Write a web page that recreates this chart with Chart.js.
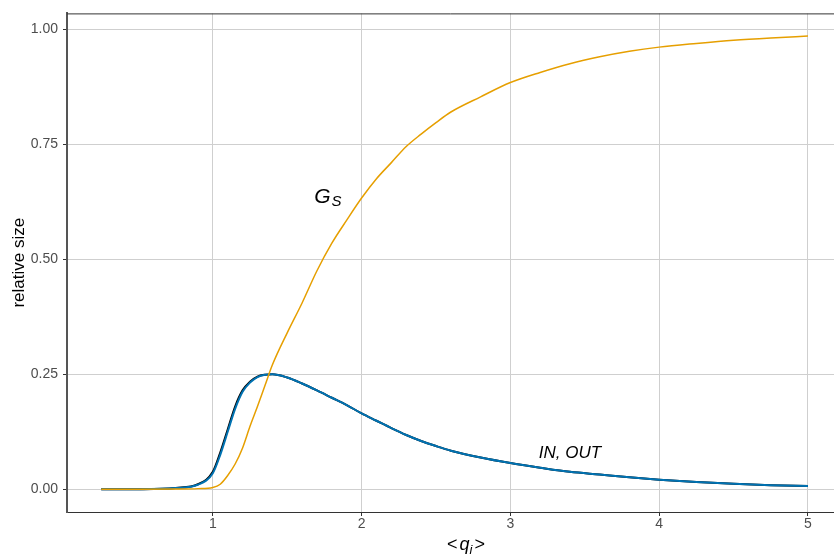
<!DOCTYPE html>
<html>
<head>
<meta charset="utf-8">
<script src="https://cdn.jsdelivr.net/npm/chart.js@4/dist/chart.umd.min.js"></script>
<style>
  html, body { margin: 0; padding: 0; background: #fff; }
  #wrap { width: 834px; height: 554px; }
</style>
</head>
<body>
<div id="wrap"><canvas id="chart" width="834" height="554"></canvas></div>
<script>
// mean degree <q_i>
const qValues = [0.25, 0.5, 0.75, 0.9, 1.0, 1.05, 1.1, 1.15, 1.2, 1.25, 1.3, 1.35, 1.4, 1.5, 1.6, 1.7, 1.8, 1.9, 2.0,
  2.1, 2.2, 2.3, 2.4, 2.5, 2.6, 2.8, 3.0, 3.2, 3.4, 3.6, 3.8, 4.0, 4.25, 4.5, 4.75, 5.0];
const gsSize = [0, 0, 0.0005, 0.0015, 0.004, 0.011, 0.03, 0.055, 0.09, 0.137, 0.18, 0.225, 0.27, 0.34, 0.405, 0.475, 0.535, 0.585, 0.633,
  0.675, 0.71, 0.745, 0.772, 0.797, 0.82, 0.853, 0.884, 0.906, 0.925, 0.94, 0.952, 0.961, 0.969, 0.976, 0.981, 0.985];
const inSize = [0, 0.0003, 0.003, 0.01, 0.035, 0.075, 0.125, 0.175, 0.212, 0.232, 0.244, 0.249, 0.25, 0.243, 0.23, 0.215, 0.199, 0.183, 0.165,
  0.149, 0.133, 0.118, 0.105, 0.094, 0.084, 0.069, 0.057, 0.047, 0.038, 0.032, 0.026, 0.021, 0.016, 0.012, 0.009, 0.007];
const outSize = [0, 0.0003, 0.003, 0.011, 0.038, 0.08, 0.13, 0.18, 0.215, 0.234, 0.245, 0.249, 0.25, 0.243, 0.23, 0.215, 0.199, 0.183, 0.165,
  0.149, 0.133, 0.118, 0.105, 0.094, 0.084, 0.069, 0.057, 0.047, 0.038, 0.032, 0.026, 0.021, 0.016, 0.012, 0.009, 0.007];
const xTicks = [1, 2, 3, 4, 5];
const yTicks = [0, 0.25, 0.5, 0.75, 1];
const labelGs = { x: 1.77, y: 0.637 };
const labelInOut = { x: 3.4, y: 0.082, text: "IN, OUT" };

const FONT = "'Liberation Sans', Arial, sans-serif";

function toPoints(ys) {
  return qValues.map((x, i) => ({ x, y: ys[i] }));
}

function buildDataset(label, ys, color, width, order) {
  return {
    label,
    data: toPoints(ys),
    borderColor: color,
    backgroundColor: color,
    borderWidth: width,
    pointRadius: 0,
    cubicInterpolationMode: "monotone",
    fill: false,
    order,
  };
}

const decorations = {
  id: "decorations",
  afterDatasetsDraw(chart) {
    const { ctx, chartArea, scales } = chart;
    ctx.save();
    // top of the panel border
    ctx.strokeStyle = "#333333";
    ctx.lineWidth = 1;
    ctx.beginPath();
    ctx.moveTo(chartArea.left, chartArea.top + 0.5);
    ctx.lineTo(chart.width, chartArea.top + 0.5);
    ctx.stroke();

    ctx.fillStyle = "#000000";
    ctx.textBaseline = "alphabetic";

    // G_S label
    let px = scales.x.getPixelForValue(labelGs.x);
    let py = scales.y.getPixelForValue(labelGs.y);
    ctx.font = `italic 21px ${FONT}`;
    const gW = ctx.measureText("G").width;
    ctx.font = `italic 15px ${FONT}`;
    const sW = ctx.measureText("S").width;
    const x0 = px - (gW + sW) / 2;
    ctx.textAlign = "left";
    ctx.font = `italic 21px ${FONT}`;
    ctx.fillText("G", x0, py + 7);
    ctx.font = `italic 15px ${FONT}`;
    ctx.fillText("S", x0 + gW + 1, py + 10);

    // IN, OUT label
    px = scales.x.getPixelForValue(labelInOut.x);
    py = scales.y.getPixelForValue(labelInOut.y);
    ctx.font = `italic 17px ${FONT}`;
    ctx.textAlign = "center";
    ctx.fillText(labelInOut.text, px, py + 6);

    // x axis title <q_i>
    ctx.textAlign = "left";
    ctx.font = `18px ${FONT}`;
    const lt = ctx.measureText("<").width;
    const q = ctx.measureText("q").width;
    const gt = ctx.measureText(">").width;
    ctx.font = `italic 13px ${FONT}`;
    const iw = ctx.measureText("i").width;
    const gap = 2;
    let tx = 466 - (lt + gap + q + iw + gap + gt) / 2;
    ctx.font = `18px ${FONT}`;
    ctx.fillText("<", tx, 550);
    tx += lt + gap;
    ctx.font = `italic 18px ${FONT}`;
    ctx.fillText("q", tx, 550);
    tx += q;
    ctx.font = `italic 13px ${FONT}`;
    ctx.fillText("i", tx, 554);
    tx += iw + gap;
    ctx.font = `18px ${FONT}`;
    ctx.fillText(">", tx, 550);
    ctx.restore();
  },
};

new Chart(document.getElementById("chart"), {
  type: "line",
  data: {
    datasets: [
      buildDataset("G_S", gsSize, "#E69F00", 1.5, 0),
      buildDataset("IN", inSize, "#0072B2", 2, 1),
      buildDataset("OUT", outSize, "#000000", 2, 2),
    ],
  },
  options: {
    responsive: false,
    animation: false,
    layout: { padding: { top: 9, right: 0, left: 0, bottom: 0 } },
    plugins: {
      legend: { display: false },
      tooltip: { enabled: false },
    },
    scales: {
      x: {
        type: "linear",
        min: 0.02,
        max: 5.175,
        afterBuildTicks: (scale) => {
          scale.ticks = xTicks.map((v) => ({ value: v }));
        },
        afterFit: (scale) => {
          scale.height = 42;
        },
        grid: {
          color: "#cfcfcf",
          lineWidth: 1,
          tickColor: "#333333",
          tickLength: 4,
        },
        border: { color: "#333333", width: 1 },
        ticks: {
          color: "#4d4d4d",
          font: { family: FONT, size: 14 },
          padding: 0,
          maxRotation: 0,
          callback: (v) => String(v),
        },
      },
      y: {
        type: "linear",
        min: -0.0493,
        max: 1.0343,
        afterBuildTicks: (scale) => {
          scale.ticks = yTicks.map((v) => ({ value: v }));
        },
        afterFit: (scale) => {
          scale.width = 67;
        },
        grid: {
          color: "#cfcfcf",
          lineWidth: 1,
          tickColor: "#333333",
          tickLength: 4,
        },
        border: { color: "#555555", width: 2 },
        ticks: {
          color: "#4d4d4d",
          font: { family: FONT, size: 14 },
          padding: 5,
          callback: (v) => Number(v).toFixed(2),
        },
        title: {
          display: true,
          text: "relative size",
          color: "#000000",
          font: { family: FONT, size: 17 },
          padding: { top: 9, bottom: 0 },
        },
      },
    },
  },
  plugins: [decorations],
});
</script>
</body>
</html>
